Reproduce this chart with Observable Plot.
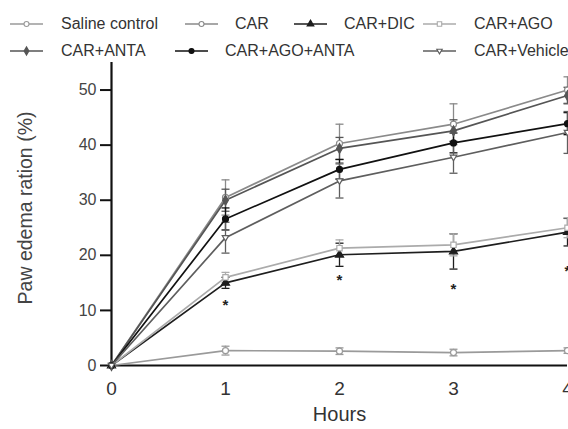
<!DOCTYPE html>
<html>
<head>
<meta charset="utf-8">
<script src="https://cdn.jsdelivr.net/npm/d3@7"></script>
<script src="https://cdn.jsdelivr.net/npm/@observablehq/plot@0.6"></script>
<style>
  html, body { margin: 0; padding: 0; background: #fff; }
  #wrap { position: relative; width: 568px; height: 429px; overflow: hidden; font-family: "Liberation Sans", Arial, sans-serif; }
  #legend { position: absolute; left: 0; top: 0; width: 568px; height: 60px; z-index: 2; }
  .item { position: absolute; white-space: nowrap; font-size: 16px; color: #333; line-height: 16px; }
  .item svg { position: absolute; top: 2px; }
  #chart svg { display: block; overflow: hidden; }
</style>
</head>
<body>
<div id="wrap">
  <div id="legend"></div>
  <div id="chart"></div>
</div>
<script>
// ---- data ----
const hours = [0, 1, 2, 3, 4];
const seriesNames = ["Saline control", "CAR", "CAR+DIC", "CAR+AGO", "CAR+ANTA", "CAR+AGO+ANTA", "CAR+Vehicle"];
const salineMean   = [0, 2.7, 2.6, 2.35, 2.7];
const salineErr    = [0, 0.8, 0.6, 0.6, 0.5];
const carMean      = [0, 30.5, 40.3, 43.8, 50.0];
const carErr       = [0, 3.2, 3.5, 3.7, 2.4];
const dicMean      = [0, 15.0, 20.1, 20.7, 24.2];
const dicErr       = [0, 1.0, 2.1, 3.2, 2.5];
const agoMean      = [0, 16.0, 21.3, 21.9, 25.0];
const agoErr       = [0, 0.9, 1.5, 2.0, 1.8];
const antaMean     = [0, 30.0, 39.4, 42.6, 49.0];
const antaErr      = [0, 2.0, 2.0, 2.0, 1.5];
const agoAntaMean  = [0, 26.6, 35.6, 40.4, 43.9];
const agoAntaErr   = [0, 2.0, 1.8, 1.8, 2.0];
const vehicleMean  = [0, 23.2, 33.5, 37.8, 42.3];
const vehicleErr   = [0, 2.8, 3.1, 2.9, 3.8];
const starHours    = [1, 2, 3, 4];
const starValues   = [11.0, 15.5, 13.9, 17.2];
const yTicks       = [0, 10, 20, 30, 40, 50];

const means = [salineMean, carMean, dicMean, agoMean, antaMean, agoAntaMean, vehicleMean];
const errs  = [salineErr, carErr, dicErr, agoErr, antaErr, agoAntaErr, vehicleErr];

// ---- styles ----
const downTriangle = {
  draw(ctx, size) {
    const s = Math.sqrt(size / Math.PI) * 1.15;
    ctx.moveTo(0, s);
    ctx.lineTo(s * 0.95, -s * 0.6);
    ctx.lineTo(-s * 0.95, -s * 0.6);
    ctx.closePath();
  }
};
const capSymbol = {
  draw(ctx, size) {
    const w = Math.sqrt(size / Math.PI);
    ctx.moveTo(-w, 0);
    ctx.lineTo(w, 0);
  }
};
const styles = [
  {color: "#9a9a9a", symbol: d3.symbolCircle,   fill: "#fff"},
  {color: "#8a8a8a", symbol: d3.symbolCircle,   fill: "#fff"},
  {color: "#1e1e1e", symbol: d3.symbolTriangle, fill: "#1e1e1e"},
  {color: "#ababab", symbol: d3.symbolSquare,   fill: "#fff"},
  {color: "#555555", symbol: d3.symbolDiamond,  fill: "#555555"},
  {color: "#111111", symbol: d3.symbolCircle,   fill: "#111111"},
  {color: "#5e5e5e", symbol: downTriangle,      fill: "#fff"}
];

const rows = [];
seriesNames.forEach((name, i) => {
  hours.forEach((h, j) => rows.push({series: name, hour: h, mean: means[i][j], err: errs[i][j]}));
});
const stars = starHours.map((h, i) => ({hour: h, value: starValues[i]}));

const marks = [
  Plot.ruleY([0], {stroke: "#111", strokeWidth: 2.2}),
  Plot.ruleX([0], {stroke: "#111", strokeWidth: 2.2}),
  Plot.axisY({ticks: yTicks, tickSize: 11, tickPadding: 4, fontSize: 16, stroke: "#111", strokeWidth: 2, fill: "#444", label: null}),
  Plot.axisX({ticks: hours, tickSize: 0, tickPadding: 16, fontSize: 19, fill: "#333", label: null, tickFormat: d3.format("d")}),
  Plot.text(["Hours"], {frameAnchor: "bottom", dy: 55, fontSize: 20, fill: "#333"}),
  Plot.text(["Paw edema ration (%)"], {frameAnchor: "left", textAnchor: "middle", rotate: -90, dx: -86, dy: -6, fontSize: 19.5, fill: "#444"})
];
// error bars
seriesNames.forEach((name, i) => {
  const data = rows.filter(d => d.series === name && d.hour > 0);
  const c = styles[i].color;
  marks.push(
    Plot.ruleX(data, {x: "hour", y1: d => d.mean - d.err, y2: d => d.mean + d.err, stroke: c, strokeWidth: 1.3}),
    Plot.dot(data, {x: "hour", y: d => d.mean + d.err, symbol: capSymbol, r: 4, stroke: c, fill: "none", strokeWidth: 1.3}),
    Plot.dot(data, {x: "hour", y: d => d.mean - d.err, symbol: capSymbol, r: 4, stroke: c, fill: "none", strokeWidth: 1.3})
  );
});
// lines
seriesNames.forEach((name, i) => {
  const data = rows.filter(d => d.series === name);
  marks.push(Plot.line(data, {x: "hour", y: "mean", stroke: styles[i].color, strokeWidth: 1.7}));
});
// markers
seriesNames.forEach((name, i) => {
  const data = rows.filter(d => d.series === name);
  marks.push(Plot.dot(data, {x: "hour", y: "mean", symbol: styles[i].symbol, r: 3, stroke: styles[i].color, fill: styles[i].fill, strokeWidth: 1.2}));
});
marks.push(Plot.text(stars, {x: "hour", y: "value", text: () => "*", fontSize: 15, fill: "#222", fontWeight: "bold"}));

const chart = Plot.plot({
  width: 568,
  height: 429,
  marginTop: 62,
  marginBottom: 64,
  marginLeft: 111,
  marginRight: 1,
  style: {fontFamily: "'Liberation Sans', Arial, sans-serif", background: "#fff", color: "#333"},
  x: {domain: [0, 4]},
  y: {domain: [0, 55]},
  marks
});
document.getElementById("chart").appendChild(chart);

// ---- legend (HTML) ----
const legendLayout = [
  {sx: 10,  tx: 61,  row: 0},
  {sx: 185, tx: 235, row: 0},
  {sx: 294, tx: 344, row: 0},
  {sx: 423, tx: 474, row: 0},
  {sx: 10,  tx: 61,  row: 1},
  {sx: 175, tx: 225, row: 1},
  {sx: 423, tx: 474, row: 1}
];
const legend = d3.select("#legend");
seriesNames.forEach((name, i) => {
  const L = legendLayout[i];
  const st = styles[i];
  const top = L.row === 0 ? 16 : 43;
  const item = legend.append("div").attr("class", "item").style("left", L.sx + "px").style("top", top + "px");
  const svg = item.append("svg").attr("width", 34).attr("height", 12).style("left", "0px");
  svg.append("line").attr("x1", 0).attr("x2", 33).attr("y1", 6).attr("y2", 6).attr("stroke", st.color).attr("stroke-width", 1.7);
  svg.append("path").attr("transform", "translate(16.5,6)")
    .attr("d", d3.symbol(st.symbol, Math.PI * 2.5 * 2.5)())
    .attr("fill", st.fill).attr("stroke", st.color).attr("stroke-width", 1.1);
  item.append("span").style("position", "absolute").style("left", (L.tx - L.sx) + "px").style("top", "0px").text(name);
});
</script>
</body>
</html>
